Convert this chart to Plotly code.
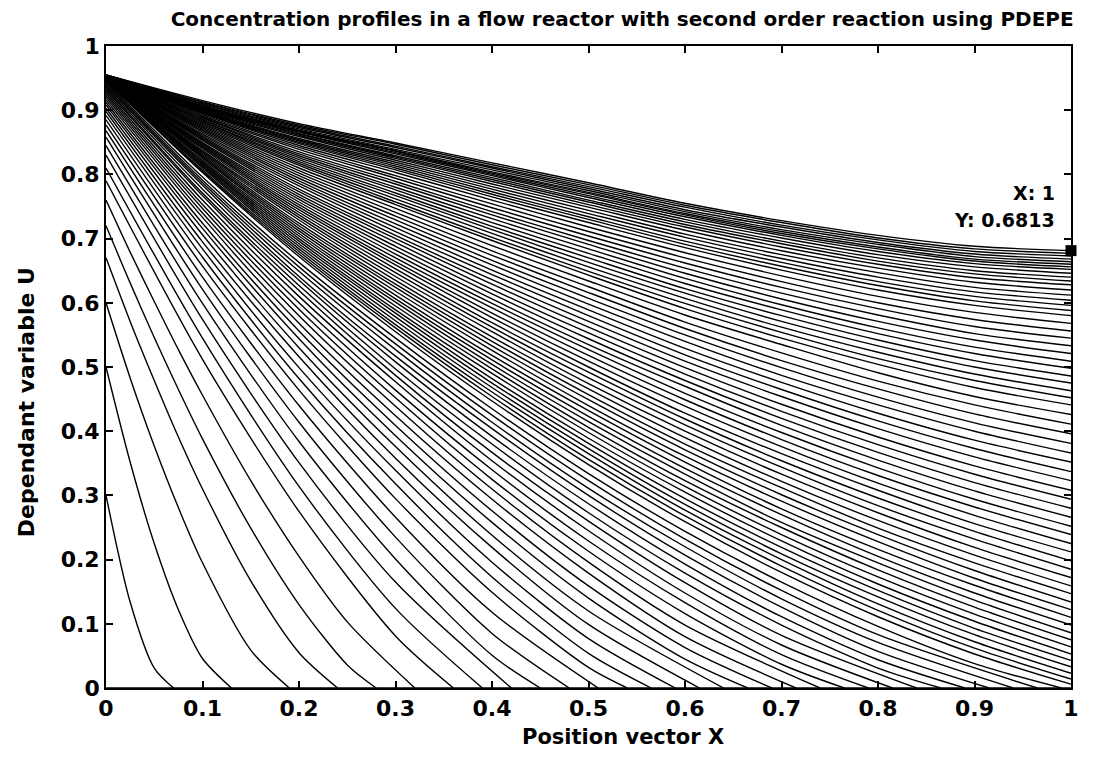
import plotly.graph_objects as go

# Positions along the reactor
X_NEAR = [0, 0.025, 0.05, 0.075, 0.1, 0.15, 0.2, 0.25, 0.3, 0.35, 1.0]
X_GRID = [0, 0.1, 0.2, 0.3, 0.4, 0.5, 0.6, 0.7, 0.8, 0.9, 1.0]

# Initial condition: empty reactor
u_00 = [0, 0, 0, 0, 0, 0, 0, 0, 0, 0, 0]

# Early profiles (front still close to the inlet), sampled on X_NEAR
u_01 = [0.30, 0.134, 0.031, 0, 0, 0, 0, 0, 0, 0, 0]
u_02 = [0.50, 0.352, 0.225, 0.122, 0.046, 0, 0, 0, 0, 0, 0]
u_03 = [0.60, 0.483, 0.377, 0.281, 0.195, 0.059, 0, 0, 0, 0, 0]
u_04 = [0.67, 0.571, 0.479, 0.391, 0.310, 0.167, 0.055, 0, 0, 0, 0]
u_05 = [0.72, 0.631, 0.546, 0.465, 0.388, 0.249, 0.130, 0.036, 0, 0, 0]
u_06 = [0.76, 0.679, 0.602, 0.527, 0.456, 0.323, 0.205, 0.103, 0, 0, 0]

# Profiles before breakthrough, sampled on X_GRID
u_07 = [0.79, 0.512, 0.275, 0.081, 0, 0, 0, 0, 0, 0, 0]
u_08 = [0.81, 0.545, 0.314, 0.124, 0, 0, 0, 0, 0, 0, 0]
u_09 = [0.83, 0.574, 0.351, 0.165, 0, 0, 0, 0, 0, 0, 0]
u_10 = [0.845, 0.599, 0.384, 0.201, 0.051, 0, 0, 0, 0, 0, 0]
u_11 = [0.858, 0.621, 0.414, 0.235, 0.085, 0, 0, 0, 0, 0, 0]
u_12 = [0.868, 0.640, 0.440, 0.266, 0.118, 0, 0, 0, 0, 0, 0]
u_13 = [0.877, 0.657, 0.464, 0.295, 0.149, 0.032, 0, 0, 0, 0, 0]
u_14 = [0.885, 0.671, 0.482, 0.318, 0.173, 0.054, 0, 0, 0, 0, 0]
u_15 = [0.892, 0.684, 0.499, 0.339, 0.196, 0.077, 0, 0, 0, 0, 0]
u_16 = [0.898, 0.695, 0.516, 0.358, 0.219, 0.099, 0, 0, 0, 0, 0]
u_17 = [0.903, 0.706, 0.530, 0.376, 0.238, 0.120, 0, 0, 0, 0, 0]
u_18 = [0.908, 0.716, 0.544, 0.393, 0.258, 0.140, 0.045, 0, 0, 0, 0]
u_19 = [0.912, 0.724, 0.556, 0.409, 0.276, 0.159, 0.063, 0, 0, 0, 0]
u_20 = [0.916, 0.733, 0.568, 0.424, 0.294, 0.179, 0.080, 0, 0, 0, 0]
u_21 = [0.920, 0.740, 0.580, 0.439, 0.310, 0.196, 0.098, 0, 0, 0, 0]
u_22 = [0.923, 0.747, 0.590, 0.452, 0.325, 0.213, 0.116, 0.037, 0, 0, 0]
u_23 = [0.926, 0.753, 0.600, 0.464, 0.340, 0.229, 0.133, 0.052, 0, 0, 0]
u_24 = [0.929, 0.760, 0.610, 0.477, 0.354, 0.245, 0.148, 0.067, 0, 0, 0]
u_25 = [0.932, 0.767, 0.619, 0.487, 0.367, 0.260, 0.164, 0.082, 0, 0, 0]
u_26 = [0.934, 0.771, 0.627, 0.497, 0.380, 0.273, 0.179, 0.098, 0.031, 0, 0]
u_27 = [0.936, 0.777, 0.635, 0.508, 0.392, 0.287, 0.193, 0.111, 0.044, 0, 0]
u_28 = [0.938, 0.783, 0.641, 0.517, 0.404, 0.300, 0.207, 0.126, 0.057, 0, 0]
u_29 = [0.940, 0.787, 0.649, 0.527, 0.414, 0.311, 0.220, 0.139, 0.071, 0, 0]
u_30 = [0.942, 0.791, 0.656, 0.536, 0.425, 0.323, 0.232, 0.152, 0.083, 0, 0]
u_31 = [0.944, 0.796, 0.663, 0.545, 0.435, 0.334, 0.244, 0.165, 0.096, 0.038, 0]

# Position where each early profile reaches zero (u_01 .. u_31)
FRONT_X = [0.07, 0.13, 0.19, 0.24, 0.28, 0.32, 0.36, 0.39, 0.42, 0.45, 0.48,
           0.51, 0.54, 0.565, 0.59, 0.615, 0.64, 0.665, 0.69, 0.715, 0.74,
           0.765, 0.79, 0.815, 0.84, 0.865, 0.89, 0.915, 0.94, 0.965, 0.99]

# Profiles after breakthrough at the outlet, sampled on X_GRID
u_32 = [0.946, 0.803, 0.672, 0.555, 0.447, 0.348, 0.259, 0.180, 0.111, 0.053, 0.006]
u_33 = [0.946, 0.805, 0.676, 0.561, 0.454, 0.356, 0.268, 0.190, 0.121, 0.062, 0.014]
u_34 = [0.946, 0.807, 0.680, 0.566, 0.461, 0.365, 0.277, 0.200, 0.131, 0.072, 0.023]
u_35 = [0.946, 0.810, 0.684, 0.572, 0.468, 0.373, 0.286, 0.209, 0.142, 0.083, 0.033]
u_36 = [0.946, 0.812, 0.688, 0.578, 0.475, 0.381, 0.295, 0.219, 0.152, 0.093, 0.043]
u_37 = [0.946, 0.814, 0.692, 0.584, 0.482, 0.389, 0.305, 0.229, 0.162, 0.104, 0.053]
u_38 = [0.946, 0.816, 0.696, 0.589, 0.490, 0.398, 0.314, 0.239, 0.173, 0.115, 0.064]
u_39 = [0.946, 0.818, 0.700, 0.595, 0.497, 0.406, 0.323, 0.250, 0.184, 0.126, 0.075]
u_40 = [0.946, 0.820, 0.704, 0.601, 0.504, 0.415, 0.333, 0.258, 0.195, 0.137, 0.086]
u_41 = [0.946, 0.822, 0.708, 0.606, 0.511, 0.423, 0.342, 0.270, 0.205, 0.148, 0.098]
u_42 = [0.947, 0.825, 0.712, 0.612, 0.518, 0.432, 0.352, 0.279, 0.216, 0.160, 0.110]
u_43 = [0.947, 0.827, 0.716, 0.618, 0.526, 0.440, 0.361, 0.291, 0.228, 0.171, 0.122]
u_44 = [0.947, 0.829, 0.720, 0.624, 0.533, 0.449, 0.371, 0.301, 0.239, 0.183, 0.134]
u_45 = [0.947, 0.831, 0.724, 0.629, 0.540, 0.457, 0.380, 0.312, 0.249, 0.195, 0.147]
u_46 = [0.947, 0.833, 0.729, 0.635, 0.547, 0.466, 0.390, 0.322, 0.261, 0.207, 0.159]
u_47 = [0.947, 0.835, 0.733, 0.641, 0.555, 0.474, 0.400, 0.333, 0.273, 0.219, 0.172]
u_48 = [0.947, 0.837, 0.737, 0.647, 0.562, 0.483, 0.410, 0.344, 0.284, 0.232, 0.185]
u_49 = [0.947, 0.840, 0.741, 0.653, 0.569, 0.492, 0.419, 0.354, 0.296, 0.244, 0.198]
u_50 = [0.947, 0.842, 0.745, 0.659, 0.577, 0.500, 0.428, 0.365, 0.308, 0.256, 0.212]
u_51 = [0.948, 0.844, 0.749, 0.664, 0.584, 0.509, 0.439, 0.376, 0.319, 0.269, 0.225]
u_52 = [0.948, 0.846, 0.753, 0.670, 0.592, 0.518, 0.449, 0.387, 0.331, 0.282, 0.239]
u_53 = [0.948, 0.848, 0.757, 0.676, 0.599, 0.527, 0.459, 0.398, 0.343, 0.294, 0.252]
u_54 = [0.948, 0.850, 0.761, 0.682, 0.606, 0.535, 0.470, 0.409, 0.355, 0.307, 0.266]
u_55 = [0.948, 0.853, 0.765, 0.688, 0.614, 0.544, 0.479, 0.420, 0.367, 0.320, 0.280]
u_56 = [0.948, 0.855, 0.769, 0.694, 0.621, 0.553, 0.489, 0.431, 0.379, 0.333, 0.294]
u_57 = [0.948, 0.857, 0.773, 0.700, 0.629, 0.562, 0.499, 0.442, 0.391, 0.346, 0.308]
u_58 = [0.948, 0.859, 0.777, 0.705, 0.636, 0.571, 0.509, 0.454, 0.404, 0.360, 0.323]
u_59 = [0.948, 0.861, 0.782, 0.711, 0.644, 0.580, 0.519, 0.465, 0.416, 0.373, 0.337]
u_60 = [0.948, 0.863, 0.786, 0.717, 0.651, 0.589, 0.529, 0.476, 0.428, 0.386, 0.352]
u_61 = [0.948, 0.866, 0.790, 0.723, 0.659, 0.598, 0.540, 0.487, 0.441, 0.400, 0.366]
u_62 = [0.949, 0.868, 0.794, 0.729, 0.666, 0.607, 0.550, 0.499, 0.453, 0.413, 0.381]
u_63 = [0.949, 0.870, 0.798, 0.735, 0.674, 0.616, 0.560, 0.510, 0.466, 0.427, 0.396]
u_64 = [0.949, 0.872, 0.802, 0.741, 0.681, 0.625, 0.570, 0.522, 0.478, 0.441, 0.411]
u_65 = [0.949, 0.874, 0.806, 0.747, 0.689, 0.634, 0.581, 0.535, 0.491, 0.454, 0.426]
u_66 = [0.949, 0.876, 0.810, 0.753, 0.697, 0.643, 0.591, 0.545, 0.504, 0.468, 0.441]
u_67 = [0.949, 0.878, 0.814, 0.757, 0.702, 0.649, 0.599, 0.554, 0.513, 0.479, 0.452]
u_68 = [0.950, 0.880, 0.817, 0.762, 0.708, 0.656, 0.607, 0.562, 0.523, 0.489, 0.463]
u_69 = [0.950, 0.882, 0.820, 0.767, 0.714, 0.663, 0.615, 0.571, 0.533, 0.500, 0.475]
u_70 = [0.950, 0.883, 0.823, 0.771, 0.719, 0.670, 0.622, 0.580, 0.542, 0.510, 0.486]
u_71 = [0.950, 0.885, 0.826, 0.776, 0.725, 0.677, 0.630, 0.589, 0.552, 0.521, 0.498]
u_72 = [0.950, 0.886, 0.829, 0.780, 0.731, 0.684, 0.638, 0.597, 0.561, 0.531, 0.509]
u_73 = [0.950, 0.888, 0.832, 0.785, 0.737, 0.691, 0.646, 0.606, 0.571, 0.542, 0.521]
u_74 = [0.950, 0.889, 0.835, 0.789, 0.742, 0.697, 0.654, 0.615, 0.581, 0.552, 0.533]
u_75 = [0.950, 0.891, 0.839, 0.794, 0.748, 0.704, 0.662, 0.624, 0.591, 0.563, 0.545]
u_76 = [0.951, 0.893, 0.842, 0.798, 0.754, 0.711, 0.670, 0.633, 0.600, 0.574, 0.556]
u_77 = [0.951, 0.895, 0.845, 0.803, 0.760, 0.718, 0.678, 0.642, 0.610, 0.585, 0.568]
u_78 = [0.951, 0.896, 0.848, 0.807, 0.765, 0.725, 0.686, 0.651, 0.620, 0.596, 0.580]
u_79 = [0.951, 0.897, 0.850, 0.810, 0.769, 0.730, 0.691, 0.657, 0.627, 0.603, 0.588]
u_80 = [0.951, 0.898, 0.852, 0.813, 0.773, 0.734, 0.696, 0.663, 0.633, 0.610, 0.596]
u_81 = [0.951, 0.899, 0.854, 0.816, 0.777, 0.739, 0.702, 0.669, 0.640, 0.617, 0.604]
u_82 = [0.952, 0.900, 0.856, 0.819, 0.781, 0.744, 0.707, 0.675, 0.647, 0.624, 0.612]
u_83 = [0.952, 0.901, 0.859, 0.822, 0.785, 0.749, 0.713, 0.681, 0.654, 0.632, 0.620]
u_84 = [0.952, 0.902, 0.861, 0.825, 0.789, 0.753, 0.718, 0.687, 0.660, 0.639, 0.628]
u_85 = [0.952, 0.903, 0.863, 0.827, 0.792, 0.757, 0.722, 0.692, 0.665, 0.645, 0.634]
u_86 = [0.953, 0.904, 0.864, 0.829, 0.795, 0.760, 0.726, 0.696, 0.670, 0.650, 0.640]
u_87 = [0.953, 0.905, 0.866, 0.832, 0.798, 0.764, 0.730, 0.701, 0.675, 0.656, 0.646]
u_88 = [0.953, 0.906, 0.867, 0.834, 0.800, 0.767, 0.734, 0.705, 0.680, 0.661, 0.652]
u_89 = [0.953, 0.907, 0.868, 0.836, 0.802, 0.770, 0.737, 0.708, 0.684, 0.665, 0.656]
u_90 = [0.953, 0.907, 0.869, 0.837, 0.804, 0.772, 0.739, 0.711, 0.687, 0.668, 0.660]
u_91 = [0.954, 0.909, 0.871, 0.839, 0.807, 0.775, 0.742, 0.714, 0.691, 0.672, 0.664]
u_92 = [0.954, 0.910, 0.873, 0.842, 0.810, 0.778, 0.745, 0.718, 0.694, 0.676, 0.668]
u_93 = [0.955, 0.912, 0.875, 0.844, 0.812, 0.781, 0.749, 0.721, 0.698, 0.680, 0.673]
u_94 = [0.955, 0.913, 0.877, 0.847, 0.815, 0.784, 0.752, 0.725, 0.701, 0.684, 0.677]
u_95 = [0.955, 0.915, 0.879, 0.849, 0.818, 0.787, 0.755, 0.728, 0.705, 0.688, 0.6813]

# Data cursor at the outlet of the final profile
TIP_X = 1
TIP_Y = 0.6813

NEAR_PROFILES = [u_01, u_02, u_03, u_04, u_05, u_06]
FRONT_PROFILES = [
    u_07, u_08, u_09, u_10, u_11, u_12, u_13, u_14, u_15, u_16, u_17, u_18,
    u_19, u_20, u_21, u_22, u_23, u_24, u_25, u_26, u_27, u_28, u_29, u_30,
    u_31,
]
OUTLET_PROFILES = [
    u_32, u_33, u_34, u_35, u_36, u_37, u_38, u_39, u_40, u_41, u_42, u_43,
    u_44, u_45, u_46, u_47, u_48, u_49, u_50, u_51, u_52, u_53, u_54, u_55,
    u_56, u_57, u_58, u_59, u_60, u_61, u_62, u_63, u_64, u_65, u_66, u_67,
    u_68, u_69, u_70, u_71, u_72, u_73, u_74, u_75, u_76, u_77, u_78, u_79,
    u_80, u_81, u_82, u_83, u_84, u_85, u_86, u_87, u_88, u_89, u_90, u_91,
    u_92, u_93, u_94, u_95,
]

TICKS = [0, 0.1, 0.2, 0.3, 0.4, 0.5, 0.6, 0.7, 0.8, 0.9, 1]
TICK_TEXT = ["0", "0.1", "0.2", "0.3", "0.4", "0.5", "0.6", "0.7", "0.8", "0.9", "1"]

FONT = "DejaVu Sans"
LINE = dict(color="black", width=1.4, shape="spline", smoothing=0.8)


def up_to_front(xs, ys, front):
    """Keep the positive part of a profile and end it where it reaches zero."""
    k = next(i for i, v in enumerate(ys) if v == 0)
    return list(xs[:k]) + [front], list(ys[:k]) + [0]


fig = go.Figure()


def add_profile(xs, ys):
    fig.add_trace(go.Scatter(x=xs, y=ys, mode="lines", line=LINE,
                             hoverinfo="skip", showlegend=False))


add_profile(X_GRID, u_00)
for prof, front in zip(NEAR_PROFILES, FRONT_X[:6]):
    add_profile(*up_to_front(X_NEAR, prof, front))
for prof, front in zip(FRONT_PROFILES, FRONT_X[6:]):
    add_profile(*up_to_front(X_GRID, prof, front))
for prof in OUTLET_PROFILES:
    add_profile(X_GRID, prof)

fig.add_trace(go.Scatter(x=[TIP_X], y=[TIP_Y], mode="markers",
                         marker=dict(symbol="square", size=11, color="black"),
                         cliponaxis=False, hoverinfo="skip", showlegend=False))

bold = dict(family=FONT, color="black", weight="bold")

fig.add_annotation(x=0.985, y=0.771, xref="x", yref="y", text=f"X: {TIP_X}",
                   xanchor="right", yanchor="middle", showarrow=False,
                   font=dict(bold, size=19))
fig.add_annotation(x=0.985, y=0.729, xref="x", yref="y", text=f"Y: {TIP_Y}",
                   xanchor="right", yanchor="middle", showarrow=False,
                   font=dict(bold, size=19))

# Axis titles
fig.add_annotation(x=0.536, y=-0.076, xref="paper", yref="paper",
                   text="Position vector X", xanchor="center", yanchor="middle",
                   showarrow=False, font=dict(bold, size=21))
fig.add_annotation(x=-0.083, y=0.445, xref="paper", yref="paper",
                   text="Dependant variable U", textangle=-90,
                   xanchor="center", yanchor="middle",
                   showarrow=False, font=dict(bold, size=22))

axis_common = dict(
    range=[0, 1], tickmode="array", tickvals=TICKS, ticktext=TICK_TEXT,
    ticks="inside", ticklen=7, tickwidth=1.5, tickcolor="black",
    showline=True, linecolor="black", linewidth=1.8, mirror="ticks",
    showgrid=False, zeroline=False,
    tickfont=dict(bold, size=22),
)

fig.update_layout(
    width=1111, height=757, autosize=False,
    paper_bgcolor="white", plot_bgcolor="white",
    margin=dict(l=106, r=40, t=46, b=69),
    title=dict(text="Concentration profiles in a flow reactor with second order reaction using PDEPE",
               x=0.56, xanchor="center", y=0.975, yanchor="middle",
               font=dict(bold, size=20)),
    xaxis=axis_common,
    yaxis=axis_common,
)

fig.write_html("out.html")
